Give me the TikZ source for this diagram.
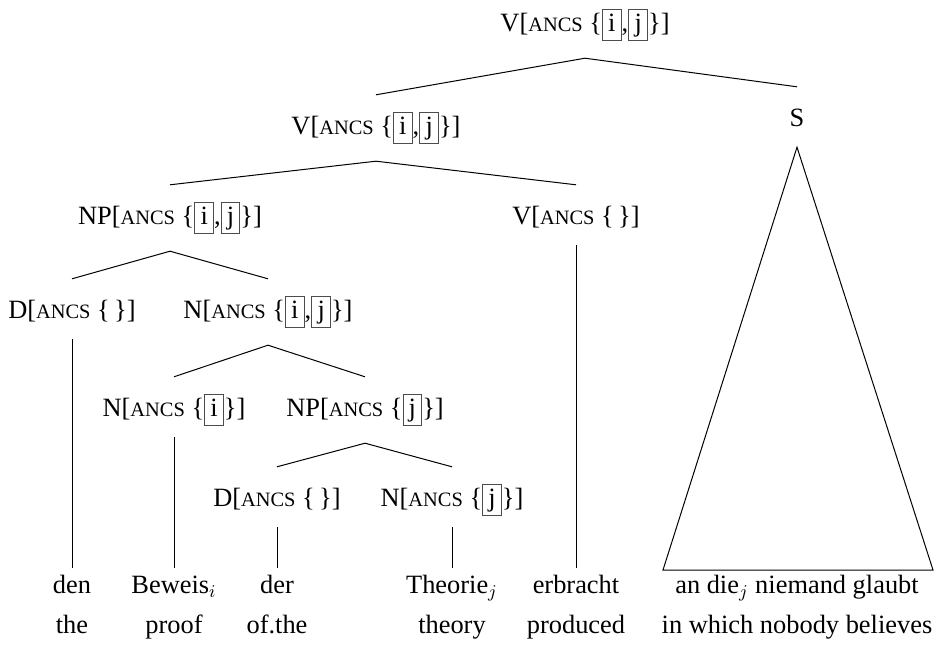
\documentclass[tikz,border=0pt]{standalone}
\usepackage{fontspec}
\setmainfont{Liberation Serif}
\usepackage{tikz}

\newcommand{\ancs}{{\fontsize{10.2}{12}\selectfont ANCS}}
\newcommand{\idx}[1]{{\setlength{\fboxsep}{0.6pt}\setlength{\fboxrule}{0.5pt}\fcolorbox{black!70}{white}{\vrule height 9.8pt depth 3.6pt width 0pt\hspace{2pt}#1\hspace{2pt}}}}

\begin{document}
\begin{tikzpicture}[
        x=0.5pt,
        y=-0.5pt,
        line width=0.5pt,
        font=\fontsize{13.2}{15}\selectfont,
        cat/.style={
            inner xsep=1pt,
            inner ysep=0pt,
            text height=10.9pt,
            text depth=4.7pt,
            outer ysep=8.8pt
        },
        leaf/.style={
            anchor=north,
            align=center,
            inner sep=2pt
        },
        stem/.style={shorten <=-3pt}
    ]
    \useasboundingbox (0,0) rectangle (948,652);

    % Nodes
    \node[cat] (root) at (585,25) {V[\ancs\ \{\idx{i},\idx{j}\}]};
    \node[cat] (vp) at (376,128) {V[\ancs\ \{\idx{i},\idx{j}\}]};
    \node[cat] (s) at (797,120) {S};
    \node[cat] (np) at (170,218) {NP[\ancs\ \{\idx{i},\idx{j}\}]};
    \node[cat] (verb) at (576,218) {V[\ancs\ \{\,\}]};
    \node[cat] (det) at (72,312) {D[\ancs\ \{\,\}]};
    \node[cat] (noun) at (268,312) {N[\ancs\ \{\idx{i},\idx{j}\}]};
    \node[cat] (nproof) at (174,410) {N[\ancs\ \{\idx{i}\}]};
    \node[cat] (npgen) at (365,410) {NP[\ancs\ \{\idx{j}\}]};
    \node[cat] (detgen) at (277,500) {D[\ancs\ \{\,\}]};
    \node[cat] (ntheory) at (452,500) {N[\ancs\ \{\idx{j}\}]};

    % Leaves
    \node[leaf] (den) at (72,568) {\strut den\\[5pt]the};
    \node[leaf] (beweis) at (174,568) {\strut Beweis$_i$\\[5pt]proof};
    \node[leaf] (der) at (277,568) {\strut der\\[5pt]of.the};
    \node[leaf] (theorie) at (452,568) {\strut Theorie$_j$\\[5pt]theory};
    \node[leaf] (erbracht) at (576,568) {\strut erbracht\\[5pt]produced};
    \node[leaf] (rel) at (797,568) {\strut an die$_j$ niemand glaubt\\[5pt]in which nobody believes};
    \coordinate (base west) at (663,570);
    \coordinate (base east) at (933,570);

    % Branches
    \draw (root.south) -- (vp.north);
    \draw (root.south) -- (s.north);
    \draw (vp.south) -- (np.north);
    \draw (vp.south) -- (verb.north);
    \draw (np.south) -- (det.north);
    \draw (np.south) -- (noun.north);
    \draw (noun.south) -- (nproof.north);
    \draw (noun.south) -- (npgen.north);
    \draw (npgen.south) -- (detgen.north);
    \draw (npgen.south) -- (ntheory.north);

    % Stems
    \draw[stem] (det.south) -- (den.north);
    \draw[stem] (nproof.south) -- (beweis.north);
    \draw[stem] (detgen.south) -- (der.north);
    \draw[stem] (ntheory.south) -- (theorie.north);
    \draw[stem] (verb.south) -- (erbracht.north);
    \draw ([yshift=3pt]s.south) -- (base west) -- (base east) -- cycle;

\end{tikzpicture}
\end{document}
